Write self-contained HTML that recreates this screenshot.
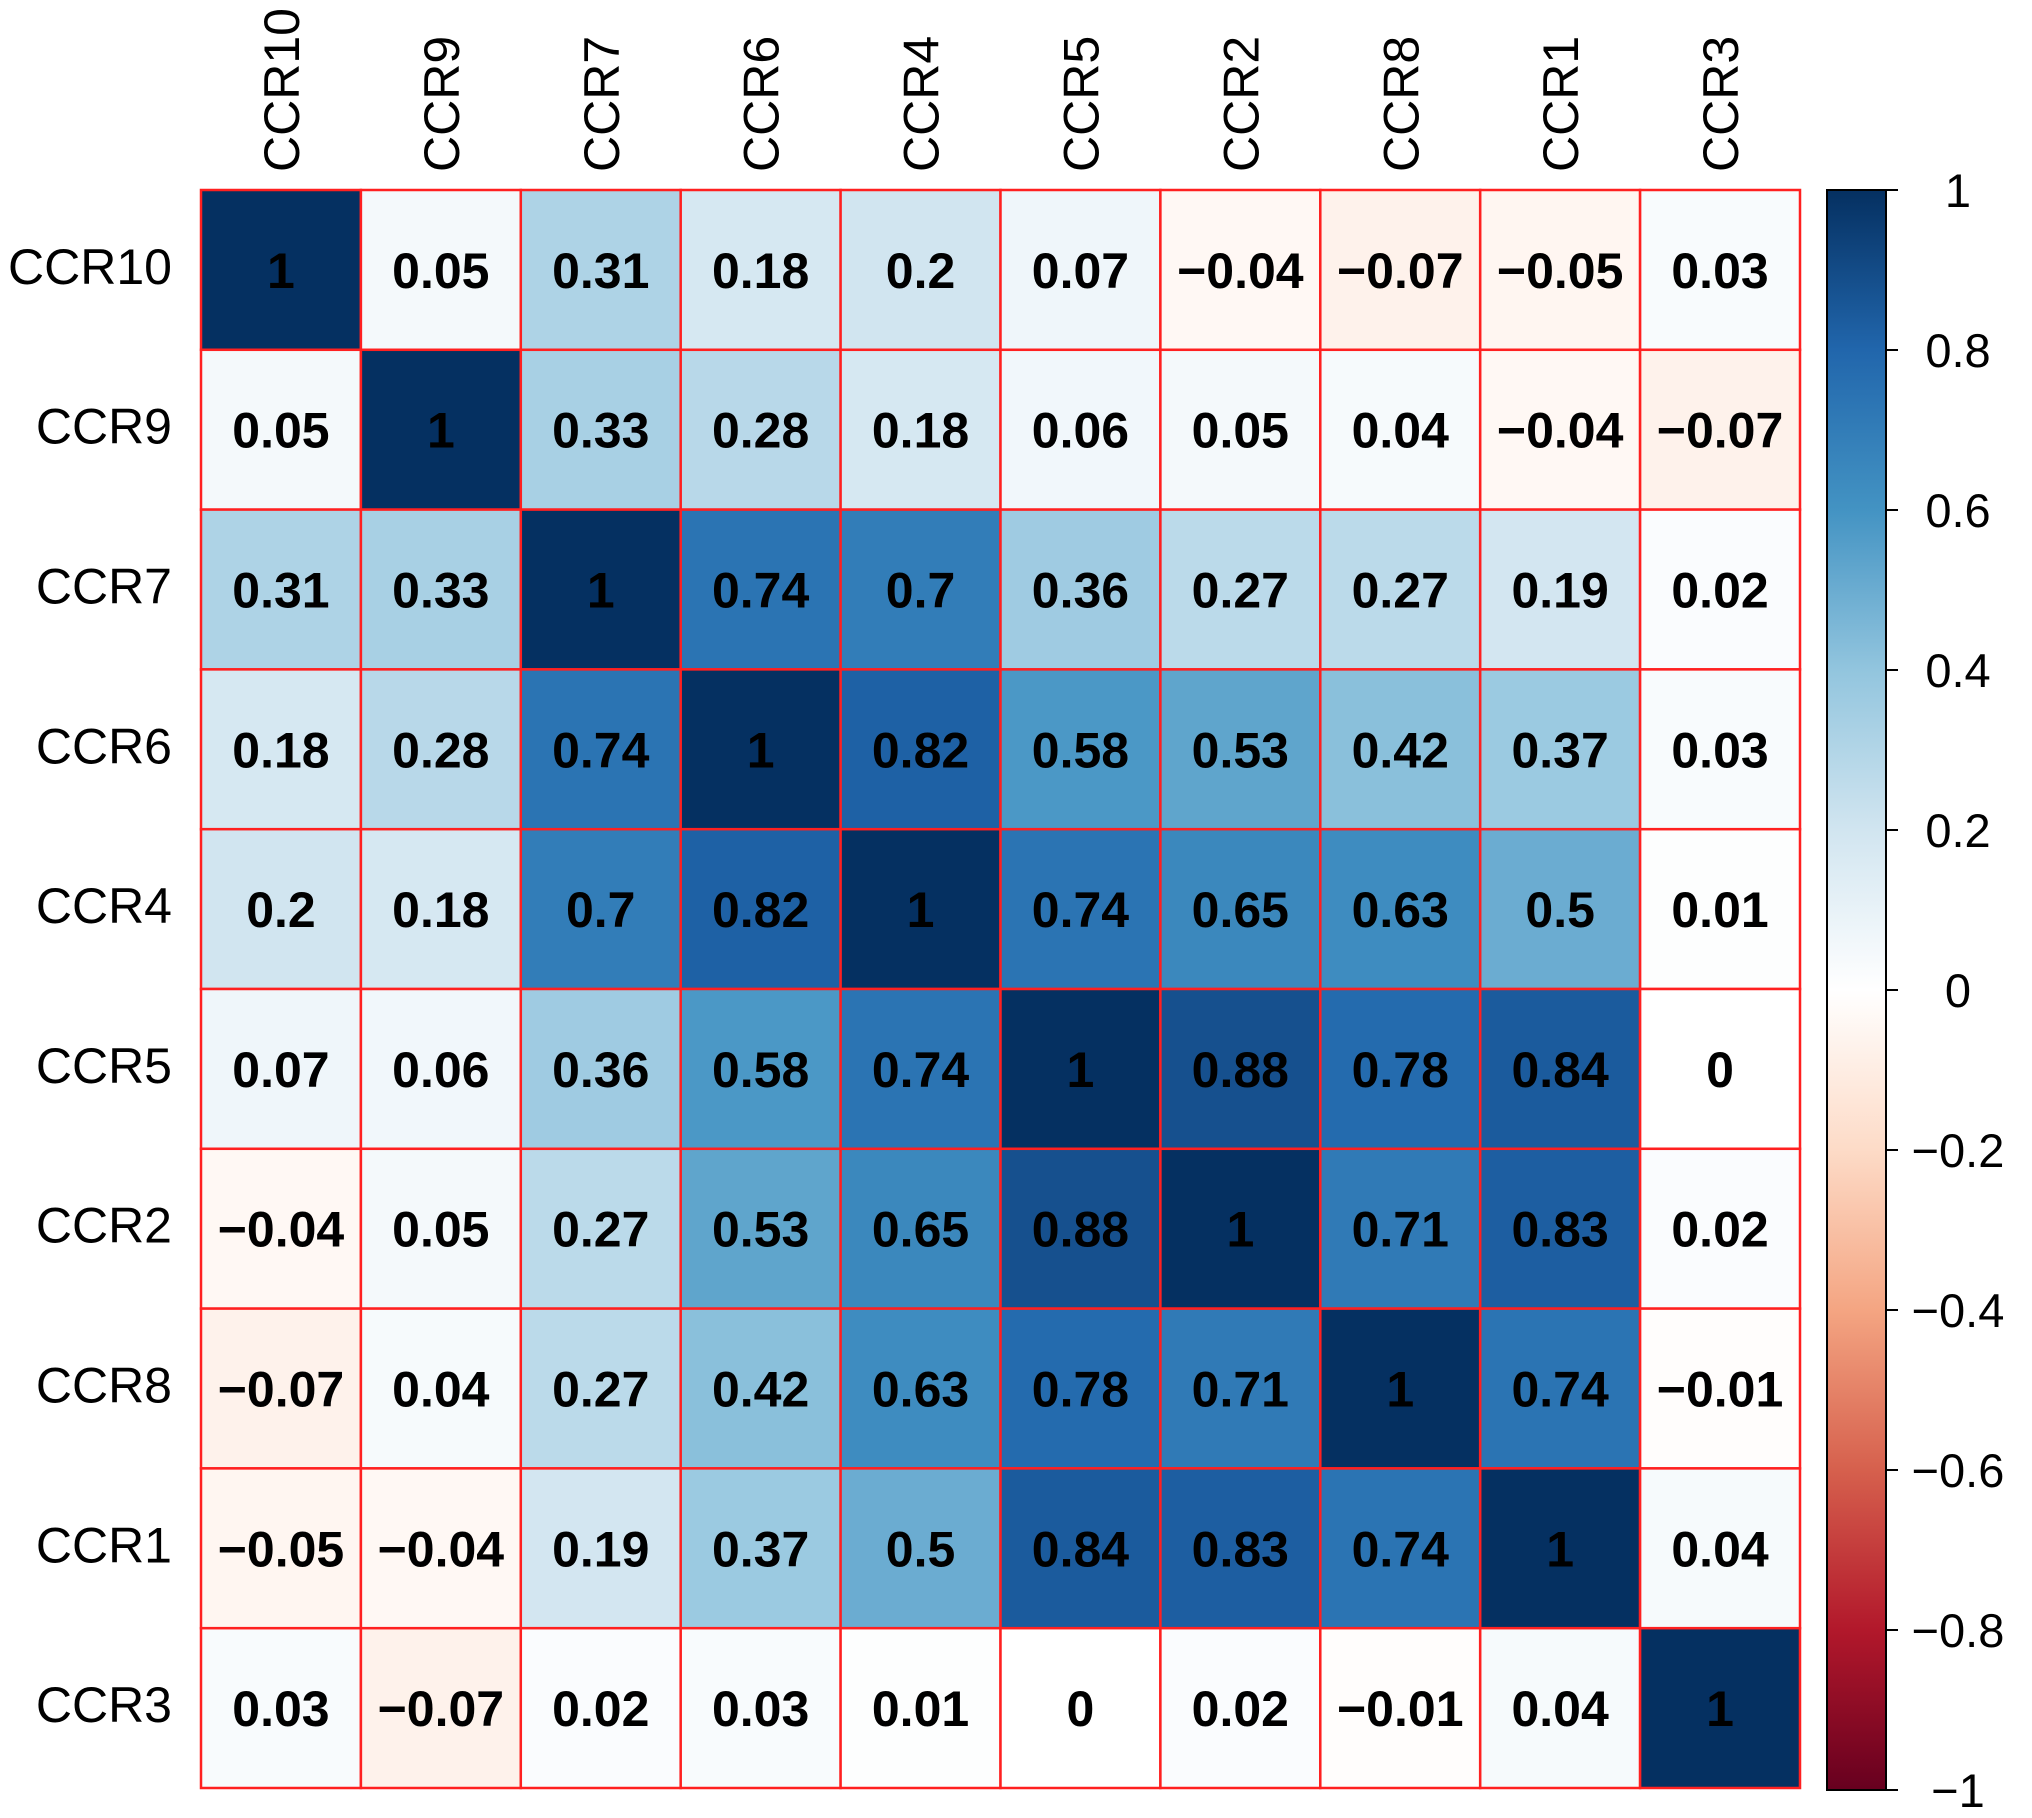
<!DOCTYPE html>
<html><head><meta charset="utf-8"><style>
html,body{margin:0;padding:0;background:#fff;}
svg{display:block;}
text{font-family:"Liberation Sans",Arial,sans-serif;}
</style></head><body>
<svg id="chart" width="2032" height="1818" viewBox="0 0 2032 1818" xmlns="http://www.w3.org/2000/svg">
<defs>
<linearGradient id="cbgrad" x1="0" y1="1" x2="0" y2="0">
<stop offset="0" stop-color="#67001F"/><stop offset="0.1" stop-color="#B2182B"/><stop offset="0.2" stop-color="#D6604D"/><stop offset="0.3" stop-color="#F4A582"/><stop offset="0.4" stop-color="#FDDBC7"/><stop offset="0.5" stop-color="#FFFFFF"/><stop offset="0.6" stop-color="#D1E5F0"/><stop offset="0.7" stop-color="#92C5DE"/><stop offset="0.8" stop-color="#4393C3"/><stop offset="0.9" stop-color="#2166AC"/><stop offset="1" stop-color="#053061"/>
</linearGradient>
</defs>
<g id="cells"></g>
<g id="labels"></g>
<g id="colorbar"></g>
</svg>
<script>
const categories = ["CCR10","CCR9","CCR7","CCR6","CCR4","CCR5","CCR2","CCR8","CCR1","CCR3"];
const row0 = [1,0.05,0.31,0.18,0.2,0.07,-0.04,-0.07,-0.05,0.03];
const row1 = [0.05,1,0.33,0.28,0.18,0.06,0.05,0.04,-0.04,-0.07];
const row2 = [0.31,0.33,1,0.74,0.7,0.36,0.27,0.27,0.19,0.02];
const row3 = [0.18,0.28,0.74,1,0.82,0.58,0.53,0.42,0.37,0.03];
const row4 = [0.2,0.18,0.7,0.82,1,0.74,0.65,0.63,0.5,0.01];
const row5 = [0.07,0.06,0.36,0.58,0.74,1,0.88,0.78,0.84,0];
const row6 = [-0.04,0.05,0.27,0.53,0.65,0.88,1,0.71,0.83,0.02];
const row7 = [-0.07,0.04,0.27,0.42,0.63,0.78,0.71,1,0.74,-0.01];
const row8 = [-0.05,-0.04,0.19,0.37,0.5,0.84,0.83,0.74,1,0.04];
const row9 = [0.03,-0.07,0.02,0.03,0.01,0,0.02,-0.01,0.04,1];
const matrix = [row0,row1,row2,row3,row4,row5,row6,row7,row8,row9];
const colorbarTicks = [1,0.8,0.6,0.4,0.2,0,-0.2,-0.4,-0.6,-0.8,-1];

const NS = "http://www.w3.org/2000/svg";
const gx0 = 201, gy0 = 190, gw = 1599, gh = 1598;
const n = categories.length;
const cw = gw / n, ch = gh / n;
const xPos = i => gx0 + i * cw;
const yPos = i => gy0 + i * ch;
const cbTop = 190, cbBot = 1790;
const cbY = v => cbTop + (1 - v) / 2 * (cbBot - cbTop);

const stops = [[-1,[103,0,31]],[-0.8,[178,24,43]],[-0.6,[214,96,77]],[-0.4,[244,165,130]],[-0.2,[253,219,199]],[0,[255,255,255]],[0.2,[209,229,240]],[0.4,[146,197,222]],[0.6,[67,147,195]],[0.8,[33,102,172]],[1,[5,48,97]]];
function color(v){
  for(let k=0;k<stops.length-1;k++){
    const a=stops[k],b=stops[k+1];
    if(v>=a[0]&&v<=b[0]){
      const t=(v-a[0])/(b[0]-a[0]);
      const c=a[1].map((x,j)=>Math.round(x+(b[1][j]-x)*t));
      return "rgb("+c.join(",")+")";
    }
  }
  return "#fff";
}
function fmt(v){ const s = String(v); return v<0 ? "\u2212"+s.slice(1) : s; }
function mk(tag, attrs, parent){
  const e=document.createElementNS(NS,tag);
  for(const k in attrs) e.setAttribute(k,attrs[k]);
  parent.appendChild(e); return e;
}
const gc=document.getElementById("cells");
const gl=document.getElementById("labels");
const gb=document.getElementById("colorbar");

for(let r=0;r<n;r++){
  for(let c=0;c<n;c++){
    const v=matrix[r][c];
    const rect=mk("rect",{x:xPos(c),y:yPos(r),width:cw,height:ch,fill:color(v),stroke:"#ff2020","stroke-width":2.5},gc);
    
    
    const t=mk("text",{x:xPos(c)+cw/2,y:yPos(r)+ch/2+18,"text-anchor":"middle","font-size":50,"font-weight":"bold",fill:"#000"},gc);
    t.textContent=fmt(v);
    
    
  }
}
for(let i=0;i<n;i++){
  const rl=mk("text",{x:172,y:yPos(i)+ch/2+14,"text-anchor":"end","font-size":50,fill:"#000"},gl);
  rl.textContent=categories[i];
  
  
  const cx=xPos(i)+cw/2+18;
  const cl=mk("text",{x:cx,y:172,"text-anchor":"start","font-size":50,fill:"#000",transform:"rotate(-90 "+cx+" 172)"},gl);
  cl.textContent=categories[i];
  
  
}
const bar=mk("rect",{x:1827,y:cbTop,width:59,height:cbBot-cbTop,fill:"url(#cbgrad)",stroke:"#000","stroke-width":2},gb);


colorbarTicks.forEach(v=>{
  const y=cbY(v);
  const tk=mk("line",{x1:1886,x2:1898,y1:y,y2:y,stroke:"#000","stroke-width":2},gb);
  
  
  const tl=mk("text",{x:1958,y:y+17,"text-anchor":"middle","font-size":47,fill:"#000"},gb);
  tl.textContent=fmt(v);
  
  
});
</script>
</body></html>
